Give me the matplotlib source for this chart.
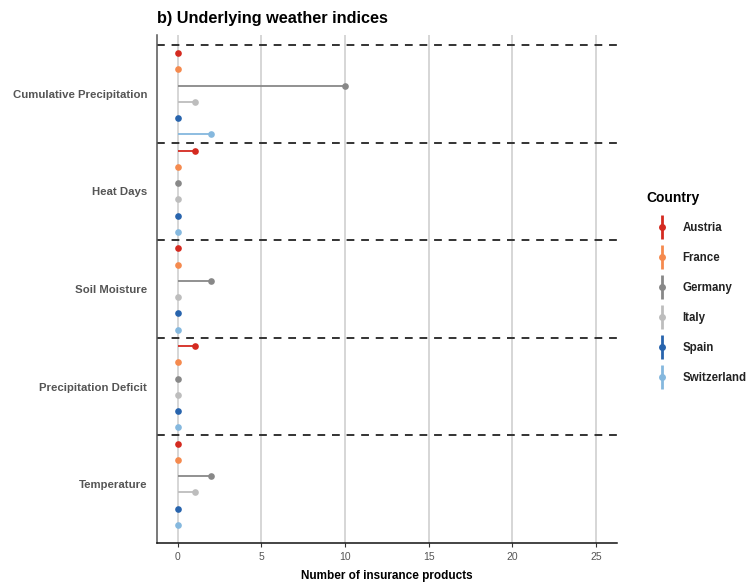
import numpy as np
import matplotlib.pyplot as plt
from matplotlib.lines import Line2D
from matplotlib.legend_handler import HandlerTuple

plt.rcParams['font.family'] = ['Liberation Sans', 'DejaVu Sans']

indices = ['Cumulative Precipitation', 'Heat Days', 'Soil Moisture',
           'Precipitation Deficit', 'Temperature']
countries = ['Austria', 'France', 'Germany', 'Italy', 'Spain', 'Switzerland']
colors = ['#d42a20', '#f58a4e', '#888888', '#bdbdbd', '#2864ad', '#85b8de']

# number of products per index (rows) and country (columns)
austria = [0, 1, 0, 1, 0]
france = [0, 0, 0, 0, 0]
germany = [10, 0, 2, 0, 2]
italy = [1, 0, 0, 0, 1]
spain = [0, 0, 0, 0, 0]
switzerland = [2, 0, 0, 0, 0]
counts = [austria, france, germany, italy, spain, switzerland]

fig = plt.figure(figsize=(7.47, 5.85), dpi=100)
ax = fig.add_axes([0.210, 0.072, 0.616, 0.868])

ypos = np.arange(1, len(indices) + 1)
step = 1.0 / len(countries)
for k, (name, col, vals) in enumerate(zip(countries, colors, counts)):
    off = (k - (len(countries) - 1) / 2) * step
    y = ypos + off
    ax.hlines(y, 0, vals, color=col, lw=1.3, zorder=3)
    ax.plot(vals, y, 'o', color=col, ms=4.8, mec='none', zorder=4)

# dashed separators between index groups
for yb in ypos - 0.5:
    ax.axhline(yb, color='#333333', lw=1.4, ls=(0, (4, 3.5)), zorder=2)

ax.set_xlim(-1.25, 26.25)
ax.set_ylim(len(indices) + 0.6, 0.4)
ax.set_xticks([0, 5, 10, 15, 20, 25])
ax.set_yticks(ypos)
ax.set_yticklabels(indices, fontweight='bold', color='#555555', fontsize=8.2)
ax.tick_params(axis='x', labelsize=7.5, labelcolor='#555555', length=3, color='#333333')
ax.tick_params(axis='y', length=0, pad=7)
ax.grid(axis='x', color='#cccccc', lw=1.1, zorder=0)
ax.set_axisbelow(True)

for s in ['top', 'right']:
    ax.spines[s].set_visible(False)
ax.spines['left'].set_color('#555555')
ax.spines['left'].set_linewidth(1.1)
ax.spines['bottom'].set_color('#111111')
ax.spines['bottom'].set_linewidth(1.1)

ax.set_xlabel('Number of insurance products', fontweight='bold', fontsize=8.5,
              labelpad=6)
fig.text(0.210, 0.968, 'b) Underlying weather indices', fontweight='bold',
         fontsize=11.7, ha='left', va='center')

handles = []
for col in colors:
    bar = Line2D([], [], color=col, marker='|', ls='none', ms=17, mew=2.0)
    dot = Line2D([], [], color=col, marker='o', ls='none', ms=5, mec='none')
    handles.append((bar, dot))
leg = fig.legend(handles, countries, title='Country',
                 handler_map={tuple: HandlerTuple(ndivide=1)},
                 loc='upper left', bbox_to_anchor=(0.852, 0.692),
                 frameon=False, labelspacing=1.55, handlelength=2.6,
                 handletextpad=0.5, prop={'weight': 'bold', 'size': 8.3},
                 title_fontproperties={'weight': 'bold', 'size': 10})
leg._legend_box.align = 'left'
for t in leg.get_texts():
    t.set_color('#222222')

fig.savefig('out.png', dpi=100)
